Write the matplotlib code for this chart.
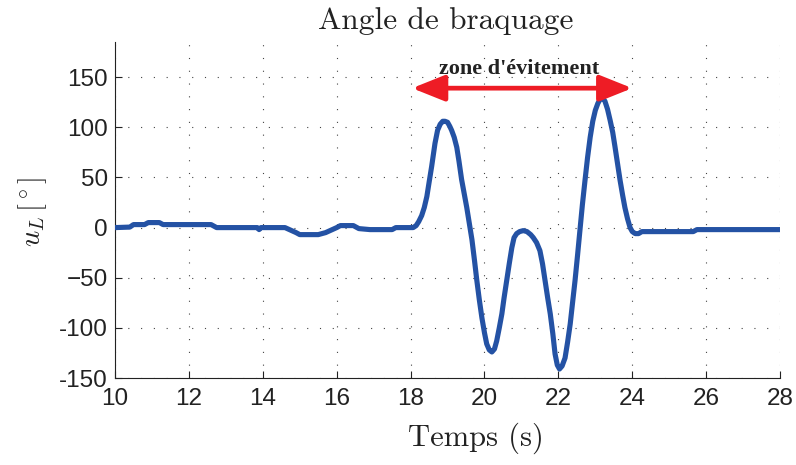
import matplotlib
matplotlib.use("Agg")
import matplotlib.pyplot as plt
from matplotlib.ticker import FixedLocator, FixedFormatter

plt.rcParams['mathtext.fontset'] = 'cm'

# Steering angle time history
t = [10.0, 10.4, 10.5, 10.8, 10.9, 11.2, 11.3, 12.6, 12.75, 13.85, 13.9, 13.95,
     14.6, 14.9, 15.0, 15.5, 15.7, 16.0, 16.1, 16.45, 16.6, 16.9, 17.5, 17.6,
     18.07, 18.15, 18.22, 18.3, 18.37, 18.44, 18.5, 18.57, 18.66, 18.73, 18.8,
     18.87, 18.93, 19.0, 19.06, 19.11, 19.18, 19.25, 19.31, 19.38, 19.45, 19.52,
     19.59, 19.66, 19.73, 19.79, 19.86, 19.93, 20.0, 20.06, 20.13, 20.2, 20.27,
     20.33, 20.4, 20.47, 20.53, 20.6, 20.67, 20.74, 20.8, 20.87, 20.95, 21.05,
     21.15, 21.25, 21.32, 21.41, 21.5, 21.57, 21.64, 21.71, 21.78, 21.85, 21.91,
     21.97, 22.03, 22.1, 22.18, 22.25, 22.32, 22.38, 22.45, 22.52, 22.59, 22.65,
     22.72, 22.79, 22.86, 22.93, 23.0, 23.07, 23.13, 23.2, 23.26, 23.33, 23.4,
     23.47, 23.53, 23.6, 23.67, 23.74, 23.8, 23.87, 23.94, 24.0, 24.08, 24.17,
     24.26, 25.65, 25.75, 28.0]
u_L = [0, 0.5, 3, 3, 5, 5, 3, 3, 0, 0, -2, 0,
       0, -5, -7, -7, -5, 0, 2, 2, -1, -2, -2, 0,
       0, 2, 6, 12, 20, 31, 45, 61, 84, 97, 103,
       106, 106, 105, 101, 97, 90, 80, 66, 48, 34, 20,
       4, -12, -33, -52, -72, -90, -105, -116, -122, -124, -121,
       -113, -100, -86, -70, -53, -36, -20, -10, -6, -4, -3,
       -4, -7, -10, -15, -23, -36, -53, -70, -86, -106, -126,
       -137, -141, -138, -130, -114, -96, -76, -53, -27, 0, 23,
       47, 70, 90, 106, 117, 124, 128, 129, 126, 118, 107,
       95, 81, 64, 47, 32, 20, 9, 0, -4, -6, -6,
       -4, -4, -2, -2]

x_ticks = [10, 12, 14, 16, 18, 20, 22, 24, 26, 28]
y_ticks = [-150, -100, -50, 0, 50, 100, 150]
y_tick_labels = ['-150', '-100', '\u221250', '0', '50', '100', '150']

zone_start, zone_end, zone_level = 18.04, 24.0, 139
zone_label = "zone d'\u00e9vitement"

fig = plt.figure(figsize=(7.96, 4.65), dpi=100)
ax = fig.add_axes([0.1445, 0.187, 0.8355, 0.7226])

ax.plot(t, u_L, color='#2452a4', lw=3.7, solid_joinstyle='round',
        solid_capstyle='round', zorder=3)

ax.set_xlim(10, 28)
ax.set_ylim(-150, 185)
ax.xaxis.set_major_locator(FixedLocator(x_ticks))
ax.yaxis.set_major_locator(FixedLocator(y_ticks))
ax.yaxis.set_major_formatter(FixedFormatter(y_tick_labels))

for s in ('top', 'right'):
    ax.spines[s].set_visible(False)
for s in ('left', 'bottom'):
    ax.spines[s].set_linewidth(0.8)
    ax.spines[s].set_color('#222222')

ax.tick_params(direction='in', length=5, width=0.8, colors='#222222',
               labelsize=17.5)
ax.tick_params(axis='x', pad=7)
ax.tick_params(axis='y', pad=5)
for lab in ax.get_xticklabels() + ax.get_yticklabels():
    lab.set_family('Liberation Sans')
    lab.set_color('#222222')

ax.grid(True, color='#444444', lw=0.8, linestyle=(0, (1, 10.5)))

# avoidance zone
ax.annotate('', xy=(zone_start, zone_level), xytext=(zone_end, zone_level),
            arrowprops=dict(arrowstyle='<|-|>,head_length=1.1,head_width=0.44',
                            color='#ee1c25', lw=3.4, shrinkA=0, shrinkB=0,
                            mutation_scale=18), zorder=4)
ax.text(20.94, 158, zone_label, ha='center', va='center', fontsize=16,
        fontweight='bold', family='Liberation Serif', color='#222222')

fig.text(0.5603, 0.955, 'Angle de braquage', fontsize=22.5, family='cmr10',
         color='#222222', ha='center', va='center')
fig.text(0.598, 0.058, 'Temps (s)', fontsize=22, family='cmr10',
         color='#222222', ha='center', va='center')
fig.text(0.041, 0.545, r'$u_L\,[^\circ]$', fontsize=20.5, rotation=90,
         color='#222222', ha='center', va='center')

fig.savefig('out.png', dpi=100)
